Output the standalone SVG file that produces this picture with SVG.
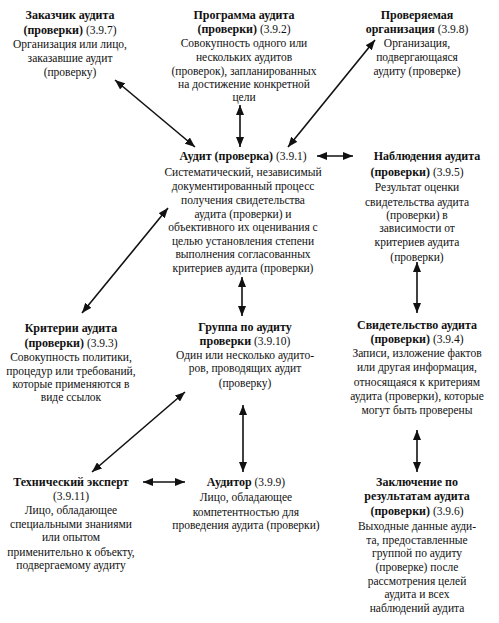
<svg xmlns="http://www.w3.org/2000/svg" width="499" height="623" viewBox="0 0 499 623">
<style>
text{font-family:"Liberation Serif","Times New Roman",serif;font-size:11.5px;fill:#111;text-anchor:middle}
.b{font-weight:bold;font-size:12px}
.c line{stroke:#111;stroke-width:1.6;marker-start:url(#ah);marker-end:url(#ah)}
</style>
<defs>
<marker id="ah" viewBox="0 0 10 8" refX="10" refY="4" markerWidth="10" markerHeight="8" markerUnits="userSpaceOnUse" orient="auto-start-reverse">
<path d="M0,0 L10,4 L0,8 z" fill="#111"/>
</marker>
</defs>
<rect width="499" height="623" fill="#fff"/>
<g id="zakazchik">
<text x="70" y="19"><tspan class="b">Заказчик аудита</tspan></text>
<text x="70" y="34"><tspan class="b">(проверки)</tspan> (3.9.7)</text>
<text x="70" y="48">Организация или лицо,</text>
<text x="70" y="62">заказавшие аудит</text>
<text x="70" y="76">(проверку)</text>
</g>
<g id="programma">
<text x="244" y="19"><tspan class="b">Программа аудита</tspan></text>
<text x="244" y="33"><tspan class="b">(проверки)</tspan> (3.9.2)</text>
<text x="244" y="47">Совокупность одного или</text>
<text x="244" y="61">нескольких аудитов</text>
<text x="244" y="75">(проверок), запланированных</text>
<text x="244" y="88">на достижение конкретной</text>
<text x="244" y="101">цели</text>
</g>
<g id="proveryaemaya">
<text x="417" y="19"><tspan class="b">Проверяемая</tspan></text>
<text x="417" y="33"><tspan class="b">организация</tspan> (3.9.8)</text>
<text x="417" y="47">Организация,</text>
<text x="417" y="61">подвергающаяся</text>
<text x="417" y="75">аудиту (проверке)</text>
</g>
<g id="audit">
<text x="243" y="160"><tspan class="b">Аудит (проверка)</tspan> (3.9.1)</text>
<text x="243" y="176">Систематический, независимый</text>
<text x="243" y="190">документированный процесс</text>
<text x="243" y="204">получения свидетельства</text>
<text x="243" y="217.5">аудита (проверки) и</text>
<text x="243" y="231">объективного их оценивания с</text>
<text x="243" y="244.5">целью установления степени</text>
<text x="243" y="258">выполнения согласованных</text>
<text x="243" y="271.5">критериев аудита (проверки)</text>
</g>
<g id="nablyudeniya">
<text x="427" y="160"><tspan class="b">Наблюдения аудита</tspan></text>
<text x="417" y="176"><tspan class="b">(проверки)</tspan> (3.9.5)</text>
<text x="417" y="191">Результат оценки</text>
<text x="417" y="206">свидетельства аудита</text>
<text x="417" y="219">(проверки) в</text>
<text x="417" y="232">зависимости от</text>
<text x="417" y="246">критериев аудита</text>
<text x="417" y="261">(проверки)</text>
</g>
<g id="kriterii">
<text x="71" y="332"><tspan class="b">Критерии аудита</tspan></text>
<text x="71" y="347"><tspan class="b">(проверки)</tspan> (3.9.3)</text>
<text x="71" y="361">Совокупность политики,</text>
<text x="71" y="375">процедур или требований,</text>
<text x="71" y="388">которые применяются в</text>
<text x="71" y="401">виде ссылок</text>
</g>
<g id="gruppa">
<text x="245" y="331"><tspan class="b">Группа по аудиту</tspan></text>
<text x="245" y="345"><tspan class="b">проверки</tspan> (3.9.10)</text>
<text x="245" y="359">Один или несколько аудито-</text>
<text x="245" y="372">ров, проводящих аудит</text>
<text x="245" y="387">(проверку)</text>
</g>
<g id="svidetelstvo">
<text x="417" y="329"><tspan class="b">Свидетельство аудита</tspan></text>
<text x="417" y="343"><tspan class="b">(проверки)</tspan> (3.9.4)</text>
<text x="417" y="357">Записи, изложение фактов</text>
<text x="417" y="371">или другая информация,</text>
<text x="417" y="386">относящаяся к критериям</text>
<text x="417" y="400">аудита (проверки), которые</text>
<text x="417" y="414">могут быть проверены</text>
</g>
<g id="tekhnicheskiy">
<text x="71" y="486"><tspan class="b">Технический эксперт</tspan></text>
<text x="71" y="500">(3.9.11)</text>
<text x="71" y="514">Лицо, обладающее</text>
<text x="71" y="528">специальными знаниями</text>
<text x="71" y="541">или опытом</text>
<text x="71" y="556">применительно к объекту,</text>
<text x="71" y="569">подвергаемому аудиту</text>
</g>
<g id="auditor">
<text x="246" y="486"><tspan class="b">Аудитор</tspan> (3.9.9)</text>
<text x="246" y="501">Лицо, обладающее</text>
<text x="246" y="516">компетентностью для</text>
<text x="246" y="529">проведения аудита (проверки)</text>
</g>
<g id="zaklyuchenie">
<text x="417" y="486"><tspan class="b">Заключение по</tspan></text>
<text x="417" y="500"><tspan class="b">результатам аудита</tspan></text>
<text x="417" y="515"><tspan class="b">(проверки)</tspan> (3.9.6)</text>
<text x="417" y="530">Выходные данные ауди-</text>
<text x="417" y="544">та, предоставленные</text>
<text x="417" y="557">группой по аудиту</text>
<text x="417" y="571">(проверке) после</text>
<text x="417" y="585">рассмотрения целей</text>
<text x="417" y="598">аудита и всех</text>
<text x="417" y="612">наблюдений аудита</text>
</g>
<g id="connectors" class="c">
<line x1="115" y1="80" x2="195" y2="147"/>
<line x1="240" y1="105" x2="240" y2="147"/>
<line x1="375" y1="40" x2="288" y2="147"/>
<line x1="317" y1="156" x2="353" y2="156"/>
<line x1="82" y1="313" x2="168" y2="208"/>
<line x1="242" y1="277" x2="242" y2="316"/>
<line x1="417" y1="262" x2="417" y2="313"/>
<line x1="417" y1="430" x2="417" y2="472"/>
<line x1="92" y1="472" x2="185" y2="392"/>
<line x1="243" y1="405" x2="243" y2="472"/>
<line x1="143" y1="482" x2="185" y2="482"/>
</g>
</svg>
